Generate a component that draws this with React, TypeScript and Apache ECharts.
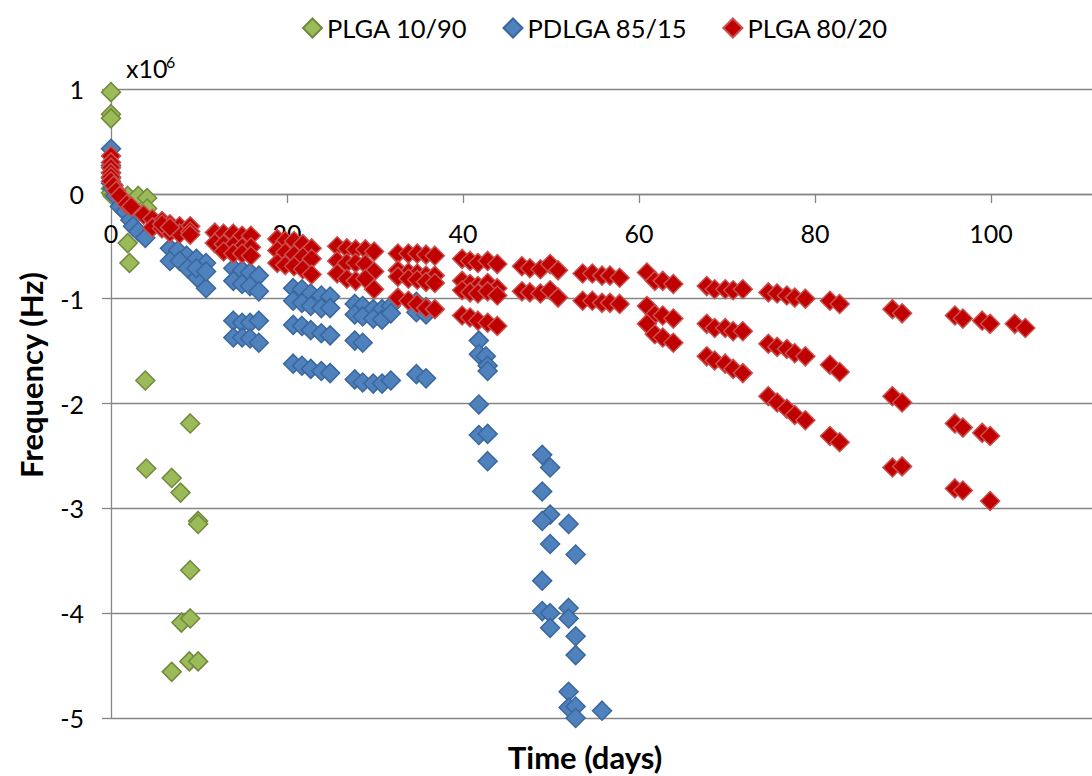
import React, { useEffect, useRef } from "react";
import * as echarts from "echarts";

// Series names (legend order)
const seriesNames: string[] = ["PLGA 10/90", "PDLGA 85/15", "PLGA 80/20"];

// Axis settings (frequency in units of 10^6 Hz)
const xMin = 0;
const xMax = 120;
const xStep = 20;
const yMin = -5;
const yMax = 1;
const yStep = 1;

// [time (days), frequency (x10^6 Hz)]
const plga1090: [number, number][] = [
  [0, 0.97], [0, 0.76], [0, 0.72], [0, 0.05], [0, 0.01], [0.2, -0.02],
  [1.9, -0.02], [3.1, -0.02], [4.1, -0.04], [4.1, -0.14],
  [1.9, -0.47], [2.1, -0.66],
  [3.9, -1.78], [4.0, -2.62],
  [6.9, -2.71], [6.9, -4.56],
  [7.9, -2.85], [8.0, -4.09],
  [9.0, -2.19], [9.0, -3.59], [9.0, -4.05], [8.9, -4.46],
  [9.9, -3.12], [9.9, -3.15], [9.9, -4.46],
];

const pdlga8515: [number, number][] = [
  [0, 0.43], [0, 0.27], [0, 0.2], [0, 0.15], [0, 0.1], [0.2, 0.05], [0.5, -0.02],
  [1.0, -0.12], [1.6, -0.17], [2.2, -0.25], [2.5, -0.31], [3.1, -0.36], [3.9, -0.42],
  [6.7, -0.52], [7.6, -0.54], [8.6, -0.59], [9.7, -0.62], [10.8, -0.66],
  [6.7, -0.64], [7.8, -0.64], [8.7, -0.71], [9.8, -0.8], [10.8, -0.9],
  [9.7, -0.71], [10.8, -0.74],
  [13.9, -0.71], [14.9, -0.73], [15.8, -0.75], [16.8, -0.78],
  [13.9, -0.83], [14.9, -0.86], [15.8, -0.88], [16.8, -0.93],
  [13.9, -1.21], [14.9, -1.23], [15.8, -1.23], [16.8, -1.21],
  [13.9, -1.37], [14.9, -1.37], [15.8, -1.38], [16.8, -1.42],
  [20.7, -0.9], [21.7, -0.91], [22.7, -0.95], [23.9, -0.97], [24.9, -0.98],
  [20.7, -1.02], [21.7, -1.04], [22.7, -1.07], [23.9, -1.09], [24.9, -1.09],
  [20.7, -1.25], [21.7, -1.26], [22.7, -1.3], [23.9, -1.33], [24.9, -1.35],
  [20.7, -1.62], [21.7, -1.64], [22.7, -1.67], [23.9, -1.69], [24.9, -1.71],
  [27.7, -1.05], [28.6, -1.07], [29.8, -1.1], [30.8, -1.1], [31.8, -1.07],
  [27.7, -1.15], [28.6, -1.17], [29.8, -1.19], [30.8, -1.2], [31.8, -1.14],
  [27.7, -1.4], [28.6, -1.42],
  [27.7, -1.77], [28.6, -1.8], [29.8, -1.81], [30.8, -1.81], [31.8, -1.78],
  [34.7, -1.03], [35.8, -1.08], [34.7, -1.13], [35.8, -1.15], [34.7, -1.72], [35.8, -1.76],
  [41.8, -1.4], [41.8, -1.53], [42.6, -1.55], [42.8, -1.64], [42.8, -1.69],
  [41.8, -2.01], [41.8, -2.3], [42.8, -2.29], [42.8, -2.55],
  [49.0, -2.49], [49.9, -2.61], [49.0, -2.84], [49.9, -3.06], [49.0, -3.12], [52.0, -3.15],
  [49.9, -3.34], [52.8, -3.44], [49.0, -3.69], [49.0, -3.98], [49.9, -4.0], [52.0, -3.95],
  [52.0, -4.05], [49.9, -4.14], [52.8, -4.22], [52.8, -4.4], [52.0, -4.75], [52.0, -4.9],
  [52.8, -4.89], [52.8, -5.0], [55.8, -4.93],
];

const plga8020: [number, number][] = [
  [0, 0.36], [0, 0.3], [0, 0.25], [0, 0.2], [0, 0.16], [0, 0.12], [0.3, 0.08], [0.6, 0.03],
  [1.0, -0.02], [1.8, -0.1], [2.3, -0.12], [3.7, -0.2],
  [4.7, -0.24], [5.8, -0.26], [6.7, -0.29], [7.8, -0.31], [9.0, -0.31],
  [4.7, -0.32], [5.8, -0.33], [6.7, -0.37], [7.8, -0.38], [9.0, -0.36],
  [5.8, -0.29], [6.7, -0.32], [9.0, -0.39],
  [11.8, -0.37], [12.8, -0.38], [13.9, -0.38], [14.9, -0.4], [15.9, -0.4],
  [11.8, -0.47], [12.8, -0.48], [13.9, -0.49], [14.9, -0.51], [15.9, -0.51],
  [12.8, -0.55], [13.9, -0.57], [14.9, -0.57], [15.9, -0.59],
  [18.9, -0.43], [19.8, -0.45], [20.8, -0.45], [21.8, -0.48], [22.8, -0.52],
  [18.9, -0.54], [19.8, -0.56], [20.8, -0.58], [21.8, -0.6], [22.8, -0.62],
  [18.9, -0.66], [19.8, -0.68], [20.8, -0.69], [21.8, -0.72], [22.8, -0.77],
  [25.7, -0.5], [26.8, -0.52], [27.8, -0.53], [28.9, -0.53], [29.9, -0.55],
  [25.7, -0.64], [26.8, -0.66], [27.8, -0.66], [28.9, -0.67], [29.9, -0.74],
  [25.7, -0.76], [26.8, -0.81], [27.8, -0.83], [28.9, -0.81], [29.9, -0.91],
  [32.6, -0.57], [33.8, -0.57], [34.8, -0.57], [35.8, -0.58], [36.8, -0.59],
  [32.6, -0.73], [33.8, -0.75], [34.8, -0.76], [35.8, -0.78], [36.8, -0.78],
  [32.6, -0.79], [33.8, -0.81], [34.8, -0.82], [35.8, -0.84], [36.8, -0.85],
  [32.6, -0.99], [33.8, -1.02], [34.8, -1.05], [35.8, -1.09], [36.8, -1.1],
  [39.9, -0.62], [40.8, -0.64], [41.7, -0.66], [42.8, -0.64], [43.9, -0.67],
  [39.9, -0.83], [40.8, -0.86], [41.7, -0.88], [42.8, -0.85], [43.9, -0.9],
  [39.9, -0.92], [40.8, -0.94], [41.7, -0.95], [42.8, -0.93], [43.9, -0.97],
  [39.9, -1.16], [40.8, -1.18], [41.7, -1.21], [42.8, -1.23], [43.9, -1.26],
  [46.7, -0.69], [47.6, -0.71], [48.8, -0.72], [49.9, -0.67], [50.8, -0.73],
  [46.7, -0.93], [47.6, -0.94], [48.8, -0.95], [49.9, -0.92], [50.8, -0.99],
  [53.6, -0.76], [54.7, -0.76], [55.8, -0.78], [56.7, -0.78], [57.8, -0.8],
  [53.6, -1.02], [54.7, -1.02], [55.8, -1.04], [56.7, -1.04], [57.8, -1.05],
  [60.9, -0.75], [61.8, -0.83], [62.7, -0.83], [63.9, -0.86],
  [60.9, -1.07], [61.8, -1.15], [62.7, -1.16], [63.9, -1.19],
  [60.9, -1.24], [61.8, -1.34], [62.7, -1.37], [63.9, -1.42],
  [67.7, -0.88], [68.6, -0.91], [69.8, -0.91], [70.7, -0.92], [71.8, -0.91],
  [67.7, -1.24], [68.6, -1.28], [69.8, -1.28], [70.7, -1.31], [71.8, -1.31],
  [67.7, -1.55], [68.6, -1.59], [69.8, -1.62], [70.7, -1.67], [71.8, -1.71],
  [74.7, -0.94], [75.7, -0.95], [76.8, -0.97], [77.7, -0.99], [78.9, -1.0],
  [74.7, -1.43], [75.7, -1.46], [76.8, -1.48], [77.7, -1.52], [78.9, -1.55],
  [74.7, -1.93], [75.7, -1.99], [76.8, -2.05], [77.7, -2.11], [78.9, -2.16],
  [81.7, -1.02], [82.8, -1.05], [81.7, -1.63], [82.8, -1.7], [81.7, -2.31], [82.8, -2.37],
  [88.8, -1.1], [89.9, -1.14], [88.8, -1.93], [89.9, -1.99], [88.8, -2.61], [89.9, -2.6],
  [95.9, -1.16], [96.8, -1.19], [95.9, -2.19], [96.8, -2.23], [95.9, -2.81], [96.8, -2.83],
  [99.0, -1.21], [99.9, -1.24], [99.0, -2.28], [99.9, -2.31], [99.9, -2.93],
  [102.7, -1.24], [103.9, -1.28],
];

const seriesData = [plga1090, pdlga8515, plga8020];
const fillColors = ["#9BBB59", "#4F81BD", "#C00000"];
const borderColors = ["#71893F", "#3A679C", "#C8504E"];

const FONT = "Lato, 'Noto Sans', sans-serif";
const GRID_COLOR = "#868686";

const GRID_TOP = 89;
const GRID_HEIGHT = 629;
// x axis sits on y = 0: offset it up from the bottom of the grid
const xAxisOffset = -Math.round((GRID_HEIGHT * (0 - yMin)) / (yMax - yMin));

export default function App() {
  const ref = useRef<HTMLDivElement>(null);

  useEffect(() => {
    if (!ref.current) return;
    const chart = echarts.init(ref.current, undefined, { renderer: "svg" });
    const option: any = {
      animation: false,
      backgroundColor: "#ffffff",
      textStyle: { fontFamily: FONT },
      grid: {
        left: 111,
        top: GRID_TOP,
        width: 1056,
        height: GRID_HEIGHT,
        containLabel: false,
        outerBoundsMode: "none",
      },
      legend: {
        left: 297,
        top: 10,
        itemWidth: 19,
        itemHeight: 19,
        itemGap: 35,
        icon: "diamond",
        data: seriesNames,
        textStyle: { fontSize: 25.5, color: "#000", fontFamily: FONT },
      },
      xAxis: {
        type: "value",
        min: xMin,
        max: xMax,
        interval: xStep,
        position: "bottom",
        offset: xAxisOffset,
        axisLine: { onZero: false, lineStyle: { color: GRID_COLOR, width: 1.3 } },
        axisTick: { show: true, length: 9, lineStyle: { color: GRID_COLOR, width: 1.3 } },
        axisLabel: {
          margin: 26,
          fontSize: 25,
          color: "#000",
          fontFamily: FONT,
          showMaxLabel: false,
        },
        splitLine: { show: false },
      },
      yAxis: {
        type: "value",
        min: yMin,
        max: yMax,
        interval: yStep,
        axisLine: { show: true, onZero: false, lineStyle: { color: GRID_COLOR, width: 1.3 } },
        axisTick: { show: true, length: 9, lineStyle: { color: GRID_COLOR, width: 1.3 } },
        axisLabel: { margin: 27, fontSize: 25, color: "#000", fontFamily: FONT },
        splitLine: { show: true, lineStyle: { color: GRID_COLOR, width: 1.3 } },
      },
      series: seriesNames.map((name, i) => ({
        name,
        type: "scatter",
        data: seriesData[i],
        symbol: "diamond",
        symbolSize: 19,
        clip: false,
        itemStyle: {
          color: fillColors[i],
          borderColor: borderColors[i],
          borderWidth: 1.5,
          opacity: 1,
        },
      })),
      graphic: [
        {
          type: "text",
          x: 126,
          y: 68,
          style: {
            text: "x10",
            font: `25px ${FONT}`,
            fill: "#000",
            textAlign: "left",
            textVerticalAlign: "middle",
          },
        },
        {
          type: "text",
          x: 166,
          y: 61,
          style: {
            text: "6",
            font: `16px ${FONT}`,
            fill: "#000",
            textAlign: "left",
            textVerticalAlign: "middle",
          },
        },
        {
          type: "text",
          x: 31,
          y: 375,
          rotation: Math.PI / 2,
          style: {
            text: "Frequency (Hz)",
            font: `bold 31px ${FONT}`,
            fill: "#000",
            textAlign: "center",
            textVerticalAlign: "middle",
          },
        },
        {
          type: "text",
          x: 585,
          y: 757,
          style: {
            text: "Time (days)",
            font: `bold 31px ${FONT}`,
            fill: "#000",
            textAlign: "center",
            textVerticalAlign: "middle",
          },
        },
      ],
    };
    chart.setOption(option);
    return () => chart.dispose();
  }, []);

  return (
    <div
      ref={ref}
      style={{ position: "absolute", left: 0, top: 0, width: 1092, height: 776, overflow: "hidden" }}
    />
  );
}
